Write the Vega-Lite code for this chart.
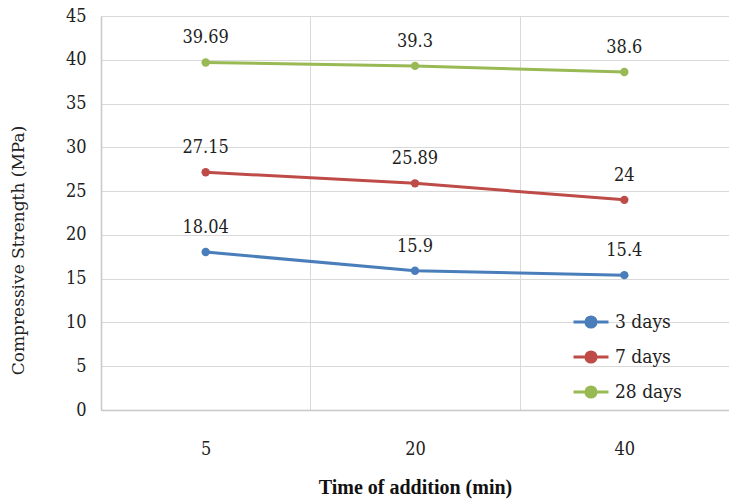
{
  "$schema": "https://vega.github.io/schema/vega-lite/v6.json",
  "autosize": {"type": "none"},
  "padding": {"left": 101, "top": 16, "right": 0, "bottom": 89},
  "width": 628,
  "height": 394,
  "background": "white",
  "config": {
    "view": {"stroke": null},
    "font": "DejaVu Serif",
    "axis": {"labelFont": "DejaVu Serif Condensed", "titleFont": "DejaVu Serif"},
    "legend": {"labelFont": "DejaVu Serif Condensed", "titleFont": "DejaVu Serif"},
    "text": {"font": "DejaVu Serif Condensed"}
  },
  "data": {
    "values": [
      {"time": "5", "age": "3 days", "strength": 18.04},
      {"time": "20", "age": "3 days", "strength": 15.9},
      {"time": "40", "age": "3 days", "strength": 15.4},
      {"time": "5", "age": "7 days", "strength": 27.15},
      {"time": "20", "age": "7 days", "strength": 25.89},
      {"time": "40", "age": "7 days", "strength": 24},
      {"time": "5", "age": "28 days", "strength": 39.69},
      {"time": "20", "age": "28 days", "strength": 39.3},
      {"time": "40", "age": "28 days", "strength": 38.6}
    ]
  },
  "encoding": {
    "x": {
      "field": "time", "type": "ordinal", "sort": ["5", "20", "40"],
      "scale": {"type": "band", "paddingInner": 0, "paddingOuter": 0},
      "axis": {
        "title": "Time of addition (min)",
        "labelAngle": 0, "labelFontSize": 18, "labelColor": "#222", "labelPadding": 30,
        "ticks": false, "domainColor": "#c8c8c8", "domainWidth": 1.5,
        "grid": true, "gridColor": "#d9d9d9", "tickBand": "extent",
        "titleFont": "Liberation Serif",
        "titleFontSize": 20, "titleFontWeight": "bold", "titleColor": "#111",
        "titleX": 314, "titleY": 77, "titleBaseline": "middle", "titleAlign": "center"
      }
    },
    "y": {
      "field": "strength", "type": "quantitative",
      "scale": {"domain": [0, 45], "nice": false},
      "axis": {
        "title": "Compressive Strength (MPa)",
        "values": [0, 5, 10, 15, 20, 25, 30, 35, 40, 45],
        "labelFontSize": 18, "labelColor": "#222", "labelPadding": 15,
        "ticks": false, "domainColor": "#c8c8c8", "domainWidth": 1.5,
        "grid": true, "gridColor": "#d9d9d9", "gridWidth": 1.2,
        "titleFont": "DejaVu Serif",
        "titleFontSize": 17, "titleFontWeight": "normal", "titleColor": "#222",
        "titleX": -83, "titleY": 234, "titleAngle": -90, "titleAlign": "center", "titleBaseline": "middle"
      }
    },
    "color": {
      "field": "age", "type": "nominal", "sort": ["3 days", "7 days", "28 days"],
      "scale": {"domain": ["3 days", "7 days", "28 days"], "range": ["#4A7EBB", "#BE4B48", "#98B954"]}
    }
  },
  "layer": [
    {
      "mark": {"type": "line", "strokeWidth": 3, "point": {"size": 70, "filled": true, "opacity": 1}},
      "encoding": {
        "color": {
          "field": "age", "type": "nominal", "sort": ["3 days", "7 days", "28 days"],
          "legend": {
            "title": null, "orient": "none", "legendX": 471, "legendY": 287,
            "symbolType": "M-1,0H1M0.29,0A0.29,0.29 0 1,1 -0.29,0A0.29,0.29 0 1,1 0.29,0Z",
            "symbolSize": 1225, "symbolStrokeWidth": 3, "labelOffset": 5,
            "labelFontSize": 19, "labelColor": "#222", "rowPadding": 4,
            "symbolOpacity": 1,
            "encode": {"symbols": {"update": {"fill": {"scale": "color", "field": "value"}, "stroke": {"scale": "color", "field": "value"}}}}
          }
        }
      }
    },
    {
      "mark": {"type": "text", "dy": -24, "fontSize": 18, "color": "#222", "baseline": "middle"},
      "encoding": {
        "text": {"field": "strength", "type": "quantitative"},
        "color": {"value": "#222"}
      }
    }
  ]
}
